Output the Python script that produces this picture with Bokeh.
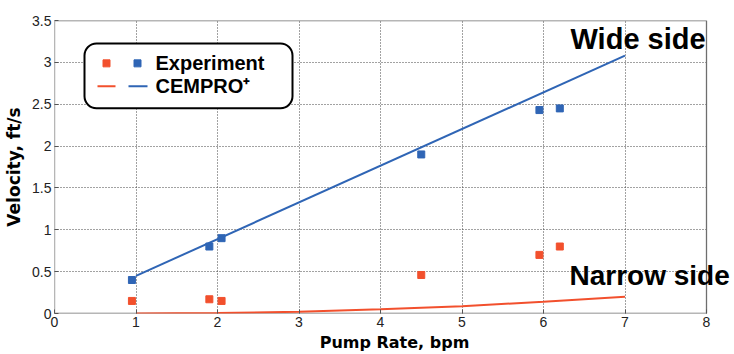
from bokeh.plotting import figure
from bokeh.models import Range1d, FixedTicker, BoxAnnotation, Label
from bokeh.embed import file_html
from bokeh.resources import INLINE

# ---- data ----
pump_rate_exp = [0.95, 1.9, 2.05, 4.5, 5.95, 6.2]
wide_exp = [0.40, 0.80, 0.90, 1.90, 2.43, 2.45]
narrow_exp = [0.15, 0.17, 0.15, 0.46, 0.70, 0.80]

pump_rate_wide_model = [1.0, 7.0]
wide_model = [0.45, 3.08]

pump_rate_narrow_model = [1, 2, 3, 4, 5, 6, 7]
narrow_model = [0.0, 0.005, 0.02, 0.05, 0.087, 0.14, 0.20]

x_ticks = [0, 1, 2, 3, 4, 5, 6, 7, 8]
y_ticks = [0, 0.5, 1, 1.5, 2, 2.5, 3, 3.5]
y_tick_labels = ["0", "0.5", "1", "1.5", "2", "2.5", "3", "3.5"]

X_MIN, X_MAX = 0, 8
Y_MIN, Y_MAX = 0, 3.5

BLUE = "#2F65B5"
RED = "#F2502D"

# the frame runs past x = 8 so that "Narrow side" may overhang the axes box
X_VIEW_MAX = X_MAX + 28 / 81.5

p = figure(width=734, height=354, output_backend="svg", toolbar_location=None,
           x_range=Range1d(X_MIN, X_VIEW_MAX), y_range=Range1d(Y_MIN, Y_MAX),
           min_border_left=54, min_border_right=0, min_border_top=20, min_border_bottom=40)
p.background_fill_color = "white"
p.border_fill_color = "white"
p.outline_line_color = None

p.xaxis.ticker = FixedTicker(ticks=x_ticks)
p.yaxis.ticker = FixedTicker(ticks=y_ticks)
p.yaxis.major_label_overrides = {t: l for t, l in zip(y_ticks, y_tick_labels)}
p.xaxis.major_label_overrides = {t: str(t) for t in x_ticks}

for ax in (p.xaxis, p.yaxis):
    ax.major_tick_in = 4
    ax.major_tick_out = 0
    ax.minor_tick_in = 0
    ax.minor_tick_out = 0
    ax.axis_line_color = None
    ax.major_tick_line_color = "#555555"
    ax.major_label_text_font = "Liberation Sans"
    ax.major_label_text_font_size = "14px"
    ax.major_label_text_color = "#222222"
    ax.axis_label_text_font = "DejaVu Sans"
    ax.axis_label_text_font_style = "bold"
    ax.axis_label_text_font_size = "16px"
    ax.axis_label_text_color = "black"
p.yaxis.axis_label_text_font_size = "17px"

p.xaxis.major_label_standoff = 3
p.yaxis.major_label_standoff = 3
p.xaxis.axis_label_standoff = 3
p.yaxis.axis_label_standoff = 5
p.xaxis.axis_label = "Pump Rate, bpm"
p.yaxis.axis_label = "Velocity, ft/s"

p.grid.grid_line_color = "#444444"
p.grid.grid_line_dash = "1 2"
p.grid.grid_line_width = 1
p.grid.level = "image"
p.xgrid.ticker = FixedTicker(ticks=x_ticks)
p.ygrid.ticker = FixedTicker(ticks=y_ticks)

# white cover right of the axes box, then the axes box itself
p.add_layout(BoxAnnotation(left=X_MAX, right=X_VIEW_MAX + 1, bottom=Y_MIN - 1, top=Y_MAX + 1,
                           fill_color="white", fill_alpha=1.0, line_color=None,
                           level="underlay"))
p.add_layout(BoxAnnotation(left=X_MIN, right=X_MAX, bottom=Y_MIN, top=Y_MAX,
                           fill_color=None, fill_alpha=0, line_color="#6e6e6e",
                           line_alpha=1.0, line_width=1.3, level="underlay"))

# model lines
p.line(pump_rate_wide_model, wide_model, line_color=BLUE, line_width=2)
p.line(pump_rate_narrow_model, narrow_model, line_color=RED, line_width=2)

# experiment points
p.scatter(pump_rate_exp, wide_exp, marker="square", size=7, fill_color=BLUE, line_color=BLUE)
p.scatter(pump_rate_exp, narrow_exp, marker="square", size=7, fill_color=RED, line_color=RED)

# ---- hand-made legend (two swatches per entry) ----
def px2x(px):
    return (px - 54) / 81.5

def py2y(py):
    return (314 - py) / 84.0

box = BoxAnnotation(left=px2x(84), right=px2x(292), top=py2y(43), bottom=py2y(108),
                    fill_color="white", fill_alpha=1.0, line_color="black", line_alpha=1.0,
                    line_width=2, border_radius=12, level="underlay")
p.add_layout(box)

p.scatter([px2x(106)], [py2y(63)], marker="square", size=7, fill_color=RED, line_color=RED)
p.scatter([px2x(137)], [py2y(63)], marker="square", size=7, fill_color=BLUE, line_color=BLUE)
p.line([px2x(97), px2x(115)], [py2y(86)] * 2, line_color=RED, line_width=2)
p.line([px2x(128), px2x(147)], [py2y(86)] * 2, line_color=BLUE, line_width=2)

for txt, yy in (("Experiment", 63), ("CEMPRO\u207a", 86)):
    p.add_layout(Label(x=px2x(155), y=py2y(yy), text=txt, text_font="Liberation Sans",
                       text_font_style="bold", text_font_size="20px", text_color="black",
                       text_baseline="middle", text_align="left"))

# annotations
p.add_layout(Label(x=px2x(570), y=py2y(39), text="Wide side", text_font="Liberation Sans",
                   text_font_style="bold", text_font_size="29px", text_color="black",
                   text_baseline="middle", text_align="left"))
p.add_layout(Label(x=px2x(569), y=py2y(276), text="Narrow side", text_font="Liberation Sans",
                   text_font_style="bold", text_font_size="28px", text_color="black",
                   text_baseline="middle", text_align="left"))

open("out.html", "w").write(file_html(p, INLINE))
